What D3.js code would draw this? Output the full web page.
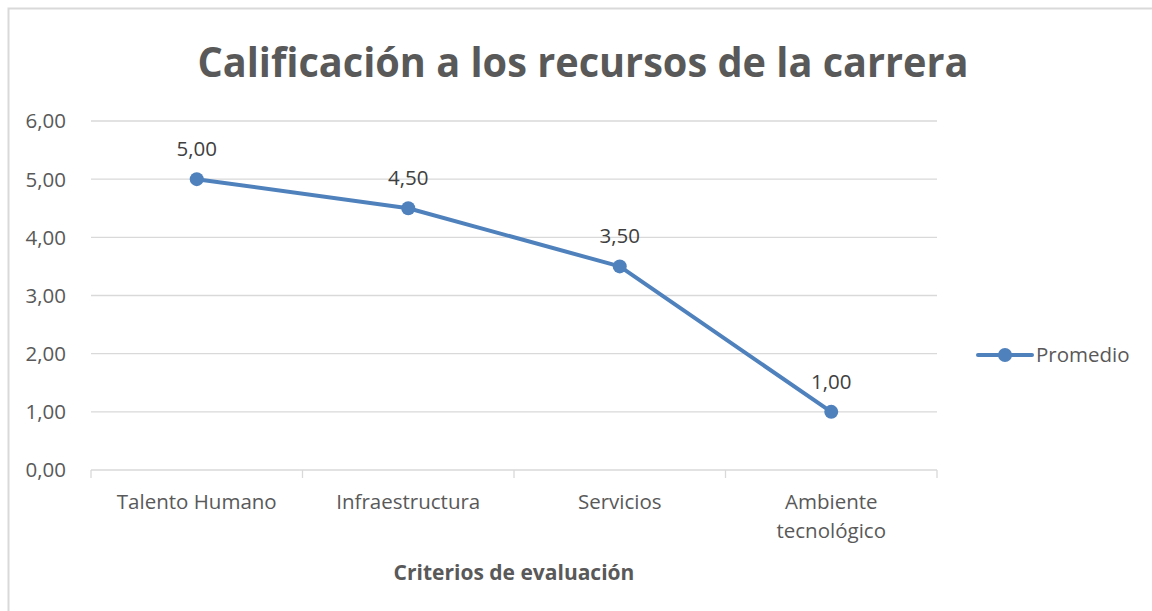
<!DOCTYPE html>
<html><head><meta charset="utf-8">
<script src="https://cdn.jsdelivr.net/npm/d3@7"></script>
<style>body{margin:0;background:#fff;}svg{display:block;}</style>
</head><body>
<script>
const categories = ["Talento Humano", "Infraestructura", "Servicios", "Ambiente tecnológico"];
const promedio = [5.00, 4.50, 3.50, 1.00];
const yTicks = [0, 1, 2, 3, 4, 5, 6];
const seriesName = "Promedio";
const title = "Calificación a los recursos de la carrera";
const xTitle = "Criterios de evaluación";

(function () {
const W = 1152, H = 611;
const font = "'Open Sans', 'Liberation Sans', sans-serif";
const grey = "#595959";
const blue = "#4F81BD";
const fs = 20.5;
const svg = d3.select("body").append("svg").attr("width", W).attr("height", H);
svg.append("rect").attr("width", W).attr("height", H).attr("fill", "#fff");
// border (top and left visible)
svg.append("path").attr("d", "M8.5,611 V8.5 H1152").attr("fill", "none").attr("stroke", "#d9d9d9").attr("stroke-width", 2);

const pL = 91, pR = 937, pT = 121, pB = 470;
const x = d3.scaleBand().domain(categories).range([pL, pR]);
const y = d3.scaleLinear().domain([0, 6]).range([pB, pT]);
const fmt = v => d3.format(".2f")(v).replace(".", ",");

// gridlines
svg.append("g").selectAll("line").data(yTicks.filter(d => d > 0)).join("line")
  .attr("x1", pL).attr("x2", pR).attr("y1", d => y(d)).attr("y2", d => y(d))
  .attr("stroke", "#d9d9d9").attr("stroke-width", 1.3);

// y axis labels
const yAxis = d3.axisLeft(y).tickValues(yTicks).tickFormat(fmt).tickSize(0).tickPadding(25);
const gy = svg.append("g").attr("transform", `translate(${pL},0)`).call(yAxis);
gy.select(".domain").remove();
gy.selectAll("text").attr("font-family", font).attr("font-size", fs).attr("fill", grey).attr("dy", "0.34em");

// x axis
const xAxis = d3.axisBottom(x).tickSize(0).tickFormat(() => "");
const gx = svg.append("g").attr("transform", `translate(0,${pB})`).call(xAxis);
gx.select(".domain").attr("stroke", "#d9d9d9").attr("stroke-width", 1.3).attr("d", `M${pL},0H${pR}`);
const bounds = [pL].concat(categories.map(c => x(c) + x.bandwidth()));
gx.selectAll(".sep").data(bounds).join("line").attr("class", "sep")
  .attr("x1", d => d).attr("x2", d => d).attr("y1", 0).attr("y2", 8)
  .attr("stroke", "#d9d9d9").attr("stroke-width", 1.3);

// category labels
const labelLines = {"Ambiente tecnológico": ["Ambiente", "tecnológico"]};
categories.forEach(c => {
  const lines = labelLines[c] || [c];
  const t = svg.append("text").attr("x", x(c) + x.bandwidth() / 2).attr("y", 509)
    .attr("text-anchor", "middle").attr("font-family", font).attr("font-size", fs).attr("fill", grey);
  lines.forEach((l, i) => t.append("tspan").attr("x", x(c) + x.bandwidth() / 2).attr("dy", i ? 29 : 0).text(l));
});

// axis title
svg.append("text").attr("x", (pL + pR) / 2).attr("y", 580).attr("text-anchor", "middle")
  .attr("font-family", font).attr("font-size", 21).attr("font-weight", "bold").attr("fill", grey).text(xTitle);

// title
svg.append("text").attr("x", 583).attr("y", 77).attr("text-anchor", "middle")
  .attr("font-family", font).attr("font-size", 41).attr("font-weight", "bold").attr("fill", grey)
  .attr("textLength", 771).attr("lengthAdjust", "spacingAndGlyphs").text(title);

// line
const data = categories.map((c, i) => ({c, v: promedio[i]}));
const line = d3.line().x(d => x(d.c) + x.bandwidth() / 2).y(d => y(d.v));
svg.append("path").datum(data).attr("d", line).attr("fill", "none")
  .attr("stroke", blue).attr("stroke-width", 4).attr("stroke-linejoin", "round").attr("stroke-linecap", "round");
svg.append("g").selectAll("circle").data(data).join("circle")
  .attr("cx", d => x(d.c) + x.bandwidth() / 2).attr("cy", d => y(d.v)).attr("r", 7).attr("fill", blue);
svg.append("g").selectAll("text").data(data).join("text")
  .attr("x", d => x(d.c) + x.bandwidth() / 2).attr("y", d => y(d.v) - 23)
  .attr("text-anchor", "middle").attr("font-family", font).attr("font-size", fs).attr("fill", "#404040")
  .text(d => fmt(d.v));

// legend
const ly = 355;
svg.append("line").attr("x1", 978).attr("x2", 1032).attr("y1", ly).attr("y2", ly)
  .attr("stroke", blue).attr("stroke-width", 4).attr("stroke-linecap", "round");
svg.append("circle").attr("cx", 1005).attr("cy", ly).attr("r", 7).attr("fill", blue);
svg.append("text").attr("x", 1036).attr("y", ly + 7).attr("font-family", font).attr("font-size", fs)
  .attr("fill", grey).text(seriesName);
})();
</script>
</body></html>
